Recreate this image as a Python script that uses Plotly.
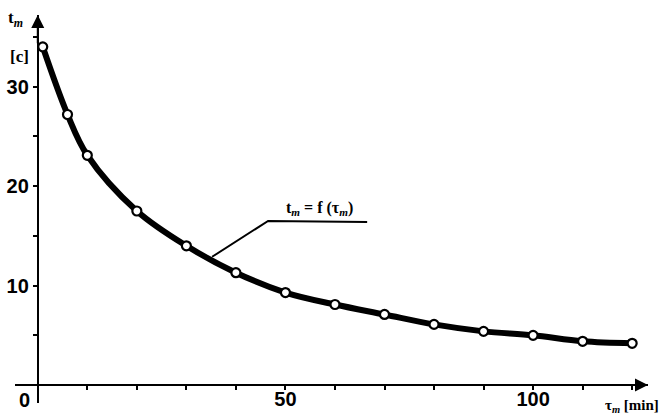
import plotly.graph_objects as go

# Measured mean time t_m [c] against duration tau_m [min]
tau_min = [1, 6, 10, 20, 30, 40, 50, 60, 70, 80, 90, 100, 110, 120]
t_m = [34.0, 27.2, 23.1, 17.5, 14.0, 11.3, 9.3, 8.1, 7.1, 6.1, 5.4, 5.0, 4.4, 4.2]

x_ticks = list(range(0, 121, 10))
x_tick_text = ["" if v not in (50, 100) else str(v) for v in x_ticks]
y_ticks = list(range(0, 36, 5))
y_tick_text = [str(v) if v in (10, 20, 30) else "" for v in y_ticks]

# callout for the curve label (curve point -> elbow -> end of underline)
leader_x = [35.2, 46.5, 66.5]
leader_y = [12.9, 16.5, 16.4]

X_RANGE = [-4.6, 123.2]
Y_RANGE = [-1.8, 37.2]

ink = "#000000"
num_font = dict(family="Liberation Sans", size=20, color=ink, weight="bold")
serif = dict(family="Liberation Serif", size=15, color=ink, weight="bold")

fig = go.Figure()

fig.add_trace(go.Scatter(
    x=tau_min, y=t_m, mode="lines",
    line=dict(color=ink, width=6, shape="spline", smoothing=1.0),
    hoverinfo="skip", showlegend=False,
))
fig.add_trace(go.Scatter(
    x=tau_min, y=t_m, mode="markers",
    marker=dict(symbol="circle", size=9, color="white", line=dict(color=ink, width=2.2)),
    showlegend=False,
))
fig.add_trace(go.Scatter(
    x=leader_x, y=leader_y, mode="lines",
    line=dict(color=ink, width=2),
    hoverinfo="skip", showlegend=False,
))

x_pos = (0 - Y_RANGE[0]) / (Y_RANGE[1] - Y_RANGE[0])
y_pos = (0 - X_RANGE[0]) / (X_RANGE[1] - X_RANGE[0])

fig.update_layout(
    width=670, height=415,
    margin=dict(l=15, r=22, t=15, b=12, autoexpand=False),
    paper_bgcolor="white", plot_bgcolor="white",
    xaxis=dict(
        range=X_RANGE, showgrid=False, zeroline=False, automargin=False,
        showline=True, linecolor=ink, linewidth=2,
        anchor="free", position=x_pos,
        ticks="outside", ticklen=4, tickwidth=2, tickcolor=ink,
        tickvals=x_ticks, ticktext=x_tick_text, tickfont=num_font,
        ticklabelstandoff=-8,
    ),
    yaxis=dict(
        range=Y_RANGE, showgrid=False, zeroline=False, automargin=False,
        showline=True, linecolor=ink, linewidth=2,
        anchor="free", position=y_pos,
        ticks="outside", ticklen=4, tickwidth=2, tickcolor=ink,
        tickvals=y_ticks, ticktext=y_tick_text, tickfont=num_font,
    ),
)

# arrowheads on both axes
fig.add_annotation(x=X_RANGE[1], y=0, ax=X_RANGE[1] - 6, ay=0,
                   xref="x", yref="y", axref="x", ayref="y",
                   showarrow=True, arrowhead=2, arrowsize=1.3, arrowwidth=2,
                   arrowcolor=ink, text="")
fig.add_annotation(x=0, y=Y_RANGE[1], ax=0, ay=Y_RANGE[1] - 3,
                   xref="x", yref="y", axref="x", ayref="y",
                   showarrow=True, arrowhead=2, arrowsize=1.3, arrowwidth=2,
                   arrowcolor=ink, text="")

# texts placed on the data scale
data_labels = [
    (-3.63, 33.05, "[c]", dict(serif, size=17)),
    (-2.73, -1.45, "0", num_font),
    (56.9, 17.8, "t<sub><i>m</i></sub> = f (τ<sub><i>m</i></sub>)", dict(serif, size=16)),
]
for lx, ly, txt, fnt in data_labels:
    fig.add_annotation(x=lx, y=ly, xref="x", yref="y", text=txt,
                       showarrow=False, font=fnt, xanchor="center", yanchor="middle")

# axis names sitting just beyond the plotted range
paper_labels = [
    (0.0, 0.99, "t<sub><i>m</i></sub>", dict(serif, size=17)),
    (0.975, -0.008, "τ<sub><i>m</i></sub> [min]", dict(serif, size=15)),
]
for lx, ly, txt, fnt in paper_labels:
    fig.add_annotation(x=lx, y=ly, xref="paper", yref="paper", text=txt,
                       showarrow=False, font=fnt, xanchor="center", yanchor="middle")

fig.write_html("out.html")
